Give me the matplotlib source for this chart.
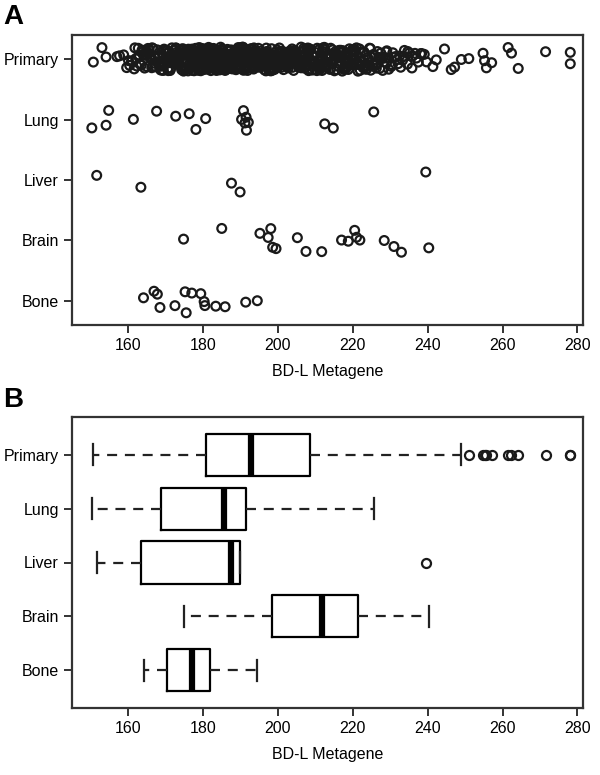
import matplotlib.pyplot as plt
import numpy as np

plt.rcParams['font.family'] = ['Liberation Sans Narrow', 'Liberation Sans', 'DejaVu Sans']

# groups listed bottom to top
groups = ['Bone', 'Brain', 'Liver', 'Lung', 'Primary']

bone = [164.1, 166.9, 167.8, 168.5, 172.5, 175.2, 175.5, 177.0, 179.4, 180.3,
        180.5, 183.4, 185.9, 191.4, 194.5]

brain = [174.8, 185.0, 195.2, 197.4, 198.1, 198.6, 199.5, 205.2, 207.5, 211.7,
         217.0, 218.8, 220.5, 221.0, 221.9, 228.4, 231.0, 233.0, 240.3]

liver = [151.6, 163.4, 187.6, 189.9, 239.5]

lung = [150.3, 154.1, 154.8, 161.4, 167.6, 172.7, 176.3, 178.1, 180.7, 190.3,
        190.8, 191.2, 191.5, 191.6, 192.1, 212.5, 214.8, 225.6]

primary = [
    # low tail
    150.7, 153.0, 154.1, 157.0, 157.7, 158.8, 159.6, 160.1,
    # up to first quartile
    160.4, 160.9, 161.6, 161.8, 162.3, 162.9, 163.1, 163.7, 164.2, 164.4,
    164.9, 165.3, 165.6, 165.8, 166.3, 166.6, 166.8, 167.1, 167.4, 167.8,
    168.0, 168.1, 168.5, 168.9, 169.0, 169.2, 169.5, 169.9, 170.0, 170.3,
    170.4, 170.7, 171.1, 171.2, 171.4, 171.7, 172.0, 172.2, 172.3, 172.6,
    172.9, 173.0, 173.3, 173.6, 173.8, 173.9, 174.2, 174.5, 174.6, 174.8,
    175.1, 175.2, 175.5, 175.8, 175.9, 176.0, 176.3, 176.6, 176.7, 176.9,
    177.0, 177.3, 177.5, 177.6, 177.7, 178.0, 178.2, 178.3, 178.4, 178.6,
    178.8, 179.0, 179.1, 179.2, 179.3, 179.5, 179.7, 179.8, 179.9, 180.0,
    180.1, 180.2,
    161.0, 162.0, 162.7, 163.5, 164.0, 164.7, 165.4, 166.0, 166.4, 167.0,
    167.6, 168.3, 168.7, 169.1, 169.6, 170.1, 170.6, 170.9, 171.3, 171.6,
    172.1, 172.5, 172.8, 173.2, 173.4, 173.7, 174.1, 174.3, 174.7, 175.0,
    175.4, 175.6, 175.7, 176.1, 176.2, 176.4, 176.8, 177.0, 177.2, 177.4,
    177.6, 177.9, 178.0, 178.2, 178.5, 178.7, 178.9, 179.0, 179.2, 179.4,
    179.6, 179.7, 179.9, 180.1, 180.2, 163.0, 165.0, 167.3, 169.4, 171.0,
    172.7, 174.0, 175.3, 176.5, 177.8, 178.8, 179.5, 180.0, 168.6, 170.5,
    173.1, 174.9, 176.2, 177.1, 179.1,
    # first quartile to median
    180.4, 180.5, 180.6, 180.8, 180.9, 181.0, 181.2, 181.4, 181.5, 181.7,
    181.8, 181.9, 182.1, 182.1, 182.3, 182.4, 182.6, 182.8, 182.9, 183.0,
    183.1, 183.3, 183.5, 183.5, 183.7, 183.9, 184.0, 184.2, 184.3, 184.4,
    184.5, 184.7, 184.9, 184.9, 185.1, 185.2, 185.4, 185.6, 185.7, 185.8,
    186.0, 186.1, 186.3, 186.3, 186.5, 186.6, 186.8, 187.0, 187.1, 187.2,
    187.3, 187.5, 187.7, 187.7, 187.8, 188.0, 188.2, 188.3, 188.4, 188.6,
    188.8, 188.9, 189.0, 189.1, 189.3, 189.4, 189.6, 189.8, 189.9, 190.0,
    190.1, 190.3, 190.5, 190.5, 190.6, 190.8, 190.9, 191.0, 191.2, 191.2,
    191.3, 191.4, 191.5, 191.6, 191.7, 191.8, 191.9, 192.0, 192.0, 192.1,
    192.1, 192.2, 192.2, 180.6, 182.2, 184.6, 186.9, 189.2, 190.7, 191.1,
    180.5, 180.7, 180.9, 181.1, 181.3, 181.5, 181.6, 181.8, 182.0, 182.2,
    182.4, 182.5, 182.7, 182.9, 183.1, 183.3, 183.4, 183.6, 183.8, 184.0,
    184.1, 184.3, 184.5, 184.7, 184.8, 185.0, 185.2, 185.4, 185.5, 185.7,
    185.9, 186.1, 186.2, 186.4, 186.6, 186.8, 186.9, 187.1, 187.3, 187.5,
    187.6, 187.8, 188.0, 188.2, 188.3, 188.5, 188.7, 188.9, 189.0, 189.2,
    189.4, 189.6, 189.7, 189.9, 190.1, 190.3, 190.4, 190.6, 190.8, 191.0,
    191.1, 191.3, 191.5, 191.7, 191.8, 192.0, 192.2, 181.2, 183.2, 185.3,
    186.7, 188.1, 189.5, 190.9, 191.6,
    # median to third quartile
    192.4, 192.6, 192.7, 192.8, 193.0, 193.3, 193.4, 193.5, 193.6, 193.9,
    194.0, 194.1, 194.3, 194.6, 194.7, 194.8, 194.9, 195.1, 195.4, 195.5,
    195.6, 195.9, 196.0, 196.2, 196.3, 196.4, 196.7, 196.8, 196.9, 197.0,
    197.2, 197.5, 197.6, 197.8, 197.9, 198.1, 198.2, 198.3, 198.5, 198.8,
    198.9, 199.0, 199.1, 199.4, 199.5, 199.7, 199.8, 200.0, 200.2, 200.3,
    200.5, 200.6, 200.7, 200.9, 201.0, 201.3, 201.4, 201.5, 201.8, 201.9,
    202.1, 202.2, 202.4, 202.6, 202.7, 202.9, 203.0, 203.1, 203.4, 203.5,
    203.6, 203.7, 204.0, 204.2, 204.3, 204.5, 204.6, 204.7, 204.9, 205.0,
    205.2, 205.5, 205.6, 205.7, 205.8, 206.1, 206.2, 206.3, 206.6, 206.7,
    206.8, 206.9, 207.2, 207.4, 207.5, 207.7, 207.9, 208.0, 208.2, 208.3,
    192.5, 192.8, 193.1, 193.3, 193.6, 193.9, 194.1, 194.4, 194.6, 194.9,
    195.2, 195.4, 195.7, 195.9, 196.2, 196.5, 196.7, 197.0, 197.3, 197.5,
    197.8, 198.0, 198.3, 198.6, 198.8, 199.1, 199.4, 199.6, 199.9, 200.2,
    200.4, 200.7, 200.9, 201.2, 201.5, 201.7, 202.0, 202.3, 202.5, 202.8,
    203.1, 203.3, 203.6, 203.8, 204.1, 204.4, 204.6, 204.9, 205.1, 205.4,
    205.7, 205.9, 206.2, 206.5, 206.7, 207.0, 207.2, 207.5, 207.8, 208.0,
    208.2, 193.7, 195.0, 196.6, 198.1, 199.7, 201.0, 202.6, 204.0, 205.5,
    206.9, 194.5, 197.2, 200.5, 203.9,
    # third quartile to 240
    208.5, 208.7, 209.1, 209.2, 209.6, 209.8, 210.1, 210.2, 210.5, 210.9,
    211.0, 211.4, 211.8, 211.9, 212.3, 212.4, 212.9, 213.0, 213.5, 213.6,
    214.1, 214.2, 214.5, 215.0, 215.1, 215.6, 215.8, 216.3, 216.4, 216.9,
    217.1, 217.6, 217.7, 218.3, 218.4, 219.0, 219.1, 219.7, 219.9, 220.4,
    220.6, 221.2, 221.4, 222.0, 222.2, 222.8, 223.0, 223.6, 223.8, 224.5,
    224.7, 225.4, 225.6, 226.3, 226.6, 227.2, 227.7, 228.0, 228.7, 229.1,
    229.6, 230.4, 230.7, 231.5, 232.1, 232.5, 233.3, 233.8, 234.6, 235.1,
    236.0, 236.6, 237.5, 238.1, 239.1, 239.7, 210.4, 212.0, 214.0, 216.1,
    218.1, 221.0, 224.1,
    208.6, 208.9, 209.2, 209.5, 209.9, 210.2, 210.5, 210.8, 211.2, 211.5,
    211.8, 212.1, 212.5, 212.8, 213.2, 213.5, 213.9, 214.2, 214.6, 214.9,
    215.3, 215.7, 216.0, 216.4, 216.8, 217.2, 217.6, 218.0, 218.4, 218.8,
    219.3, 219.7, 220.1, 220.6, 221.0, 221.5, 222.0, 222.5, 223.0, 223.5,
    224.0, 224.5, 225.1, 225.7, 226.3, 226.9, 227.5, 228.2, 228.9, 229.6,
    230.3, 231.1, 231.9, 232.8, 233.7, 234.7, 235.8, 237.0, 238.4, 209.7,
    211.0, 212.3, 213.7, 215.1, 216.6, 218.2, 219.9, 221.8, 223.8, 226.0,
    212.7, 217.4, 220.4, 224.8, 229.0,
    # high tail
    241.4, 242.3, 244.5, 246.3, 247.2, 249.0, 251.0, 254.8, 255.2, 255.7,
    257.1, 261.5, 262.4, 264.2, 271.5, 278.1, 278.1,
]

values = [bone, brain, liver, lung, primary]
x_ticks = [160, 180, 200, 220, 240, 260, 280]

W, H = 600, 775
fig = plt.figure(figsize=(W / 100, H / 100), dpi=100)
ax_a = fig.add_axes([72 / W, 1 - 325 / H, 511 / W, 290 / H])
ax_b = fig.add_axes([72 / W, 1 - 708 / H, 511 / W, 291 / H])

ink = '#1a1a1a'

# panel A: jittered strip chart
rng = np.random.default_rng(7)
for i, vals in enumerate(values, start=1):
    y = i + rng.uniform(-0.2, 0.2, len(vals))
    ax_a.scatter(vals, y, s=40, facecolors='none', edgecolors=ink, linewidths=1.6)
ax_a.set_ylim(0.6, 5.4)

# panel B: box plots
ax_b.boxplot(values, orientation='horizontal', positions=range(1, 6), widths=0.78,
             boxprops=dict(color='black', linewidth=1.6),
             medianprops=dict(color='black', linewidth=4.5, solid_capstyle='butt'),
             whiskerprops=dict(color='#222222', linewidth=1.6, linestyle=(0, (4.5, 3.5))),
             capprops=dict(color='#222222', linewidth=1.6),
             flierprops=dict(marker='o', markerfacecolor='none', markeredgecolor=ink,
                             markersize=6.5, markeredgewidth=1.6))
ax_b.set_ylim(0.3, 5.7)

for ax in (ax_a, ax_b):
    ax.set_xlim(145, 281.5)
    ax.set_xticks(x_ticks)
    ax.set_yticks(range(1, 6))
    ax.set_yticklabels(groups)
    ax.tick_params(length=6, width=1.4, labelsize=11.5, color='#333333')
    for s in ax.spines.values():
        s.set_linewidth(1.6)
        s.set_color('#333333')
    ax.set_xlabel('BD-L Metagene', fontsize=11.5, labelpad=8)

fig.text(3 / W, 1 - 17 / H, 'A', fontsize=20, fontweight='bold', va='center',
         family=['Liberation Sans', 'DejaVu Sans'])
fig.text(3 / W, 1 - 400 / H, 'B', fontsize=20, fontweight='bold', va='center',
         family=['Liberation Sans', 'DejaVu Sans'])

fig.savefig('out.png', dpi=100)
